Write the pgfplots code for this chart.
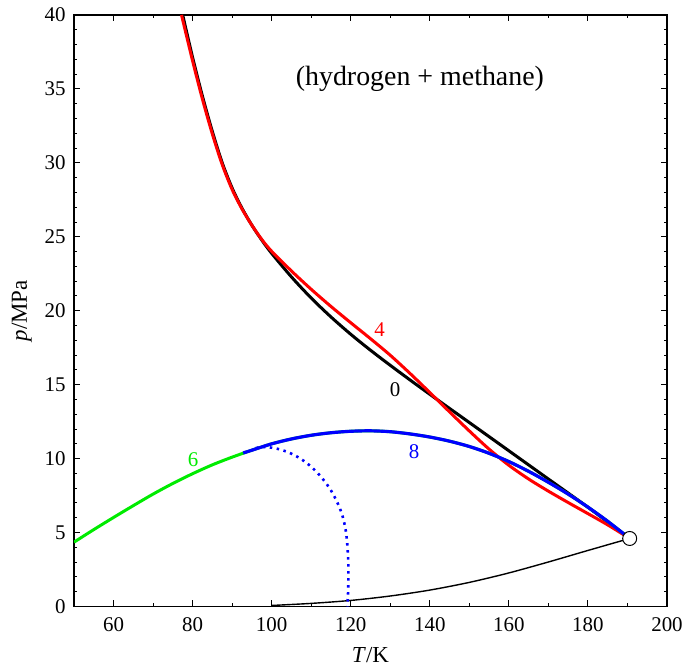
\documentclass[border=0pt]{standalone}
\usepackage{fontspec}
\setmainfont{Liberation Serif}
\usepackage{pgfplots}
\pgfplotsset{compat=1.18}
\definecolor{cgreen}{RGB}{0,235,0}
\begin{document}
\begin{tikzpicture}
\useasboundingbox (-74bp,-63.5bp) rectangle (610bp,606.5bp);
\begin{axis}[
  at={(0,0)}, anchor=south west,
  width=593bp, height=591.5bp, scale only axis,
  xmin=50, xmax=200, ymin=0, ymax=40,
  xtick={60,80,...,200}, minor xtick={50,70,...,190},
  ytick={0,5,...,40}, minor y tick num=4,
  tick align=inside,
  major tick length=6bp, minor tick length=3.5bp,
  tick style={black, line width=1bp},
  axis line style={line width=1.5bp},
  ticklabel style={font=\fontsize{21}{25}\selectfont},
  every x tick label/.append style={yshift=-8bp},
  every y tick label/.append style={xshift=-5bp},
  /pgf/number format/assume math mode=true,
  xlabel={\textit{T}/K}, ylabel={\textit{p}/MPa},
  label style={font=\fontsize{23}{27}\selectfont},
  xlabel style={yshift=-8bp},
  ylabel style={yshift=6bp},
  clip=true,
]
% lower thin black curve
\addplot[black, line width=1.4bp, smooth] coordinates {
(100,0.07) (110,0.21) (120,0.41) (130,0.71) (140,1.11) (150,1.63)
(160,2.27) (170,3.01) (180,3.79) (190.56,4.6)};
% curve 0
\addplot[black, line width=3bp, smooth] coordinates {
(77.5,40) (80,37.13) (82.5,34.5) (85,32.12) (87.5,30.0) (90,28.3) (92.5,26.93)
(95,25.78) (97.5,24.78) (100,23.88) (105,22.29) (110,20.86) (115,19.58) (120,18.41)
(125,17.33) (130,16.31) (135,15.32) (140,14.35) (150,12.44) (160,10.53) (170,8.62)
(180,6.71) (190.56,4.6)};
% curve 4
\addplot[red, line width=3bp, smooth] coordinates {
(77.2,40) (80,36.9) (82.5,34.3) (85,31.95) (87.5,29.88) (90,28.2) (92.5,26.88)
(95,25.78) (97.5,24.82) (100,24.02) (105,22.69) (110,21.45) (115,20.29) (120,19.19)
(125,18.11) (130,16.99) (135,15.76) (140,14.47) (145,13.16) (150,11.87) (155,10.64)
(160,9.55) (165,8.62) (170,7.8) (175,7.03) (180,6.28) (185,5.52) (190.56,4.6)};
% curve 6
\addplot[cgreen, line width=3bp, smooth] coordinates {
(50,4.35) (55,5.2) (60,6.02) (65,6.82) (70,7.6) (75,8.32) (80,8.98) (85,9.58)
(90,10.1) (95,10.57) (100,11.0) (105,11.33) (110,11.58) (115,11.75) (120,11.85)
(125,11.88) (130,11.82) (135,11.67) (140,11.46) (145,11.18) (150,10.82) (155,10.36)
(160,9.8) (165,9.14) (170,8.4) (175,7.6) (180,6.72) (185,5.76) (190.56,4.6)};
% curve 8
\addplot[blue, line width=3.2bp, smooth] coordinates {
(92.8,10.38) (95,10.57) (100,11.0) (105,11.33) (110,11.58) (115,11.75) (120,11.85)
(125,11.88) (130,11.82) (135,11.67) (140,11.46) (145,11.18) (150,10.82) (155,10.36)
(160,9.8) (165,9.14) (170,8.4) (175,7.6) (180,6.72) (185,5.76) (190.56,4.6)};
% dotted blue
\addplot[blue, line width=2.6bp, dash pattern=on 2.5bp off 4.5bp, smooth] coordinates {
(96,10.72) (98,10.78) (100,10.74) (102,10.63) (104,10.45) (106,10.2) (108,9.87)
(110,9.45) (112,8.92) (114,8.25) (115.5,7.62) (117,6.8) (118,6.05) (118.7,5.2)
(119.1,4.3) (119.35,3.2) (119.42,2.2) (119.35,1.1) (119.15,0)};
% critical point
\addplot[only marks, mark=*, mark size=7bp,
  mark options={fill=white, draw=black, line width=1bp}] coordinates {(190.56,4.6)};
\node[font=\fontsize{28}{33}\selectfont] at (axis cs:137.5,35.7) {(hydrogen + methane)};
\node[font=\fontsize{21}{25}\selectfont, text=red] at (axis cs:127.3,18.7) {4};
\node[font=\fontsize{21}{25}\selectfont, text=black] at (axis cs:131.2,14.64) {0};
\node[font=\fontsize{21}{25}\selectfont, text=cgreen] at (axis cs:80.1,9.95) {6};
\node[font=\fontsize{21}{25}\selectfont, text=blue] at (axis cs:136,10.5) {8};
\end{axis}
\end{tikzpicture}
\end{document}
